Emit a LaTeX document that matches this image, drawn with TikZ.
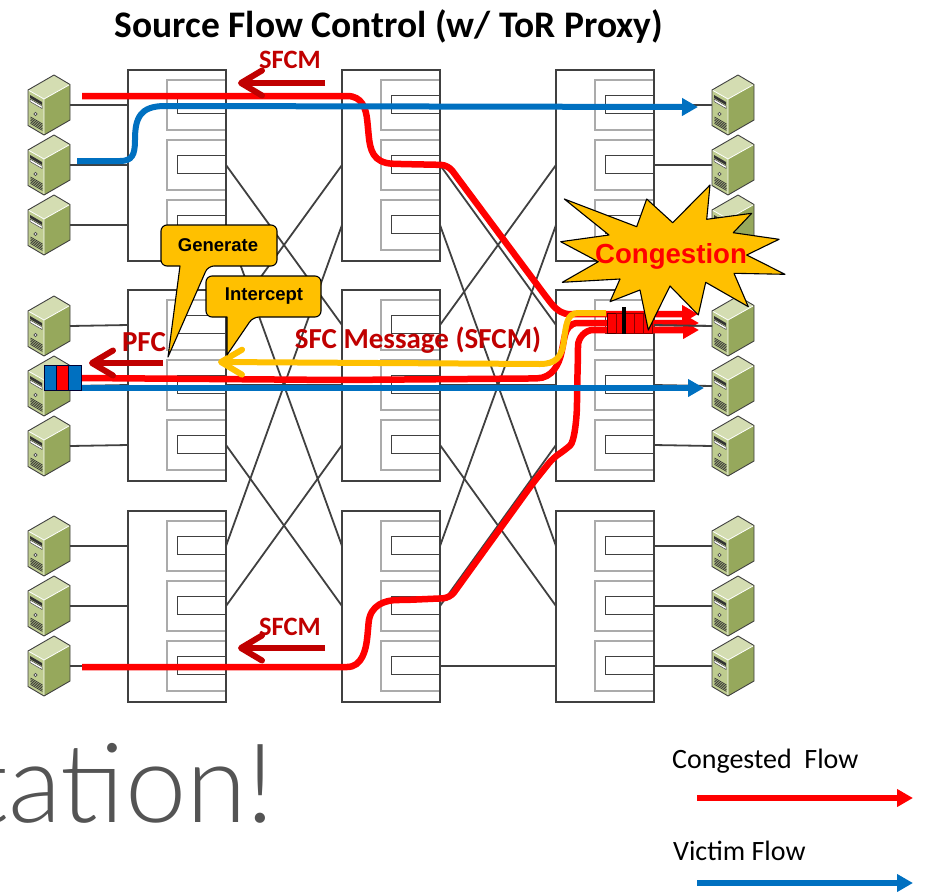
\documentclass[tikz,border=0pt]{standalone}
\usepackage{fontspec}
\setmainfont{Carlito}
\newfontfamily\arialfont{Liberation Sans}
\newfontfamily\lightfont{Lato Light}
\usepackage{xcolor}
\usetikzlibrary{arrows.meta,positioning}
\definecolor{linkgray}{HTML}{404040}
\definecolor{portgray}{HTML}{ABABAB}
\definecolor{flowred}{HTML}{FF0000}
\definecolor{flowblue}{HTML}{0070C0}
\definecolor{sfcyellow}{HTML}{FFC000}
\definecolor{sfcred}{HTML}{C00000}

\begin{document}
\begin{tikzpicture}[x=1pt,y=-1pt,
  switchbox/.style={draw=linkgray, line width=2pt, fill=white, minimum width=98pt, minimum height=191pt, inner sep=0pt, outer sep=0pt},
  srvbox/.style={minimum width=42pt, minimum height=60pt, inner sep=0pt, outer sep=0pt},
  link/.style={draw=linkgray, line width=1.8pt},
  redflow/.style={draw=flowred, line width=6.5pt, rounded corners=7pt},
  blueflow/.style={draw=flowblue, line width=6pt},
  bigtip/.style={-{Triangle[length=16pt,width=17pt]}},
  msgarrow/.style={line width=6pt, -{Straight Barb[length=21pt,width=25pt,round]}},
  cell/.style={draw=#1, line width=.9pt, minimum height=20pt, inner sep=0pt, outer sep=0pt},
  bubble/.style={draw=black, line width=1.1pt, fill=sfcyellow, line join=round},
  bubbletext/.style={font=\arialfont\bfseries\fontsize{18.5}{20}\selectfont},
  msgtext/.style={text=sfcred, font=\bfseries\fontsize{26.5}{30}\selectfont, inner sep=0pt},
  bigmsgtext/.style={text=sfcred, font=\bfseries\fontsize{29}{32}\selectfont, inner sep=0pt},
  legendtext/.style={font=\fontsize{28}{30}\selectfont, inner sep=0pt},
  server/.pic={
    \fill[fill={rgb,255:red,212;green,221;blue,178}] (0,15) -- (26,0) -- (42,9.5) -- (16,24) -- cycle;
    \fill[fill={rgb,255:red,190;green,204;blue,143}] (0,15) -- (16,24) -- (16,60) -- (0,50.5) -- cycle;
    \fill[fill={rgb,255:red,150;green,168;blue,92}] (16,24) -- (42,9.5) -- (42,45) -- (16,60) -- cycle;
    \draw[white, line width=.8pt] (.8,15.4) -- (16,24) -- (41,10) (16,24) -- (16,59);
    \fill[black!80] (2,20) -- (14,27) -- (14,30) -- (2,23) -- cycle;
    \draw[black!70, fill=white, line width=.5pt] (2,24) -- (14,31) -- (14,33.5) -- (2,26.5) -- cycle;
    \draw[black!70, fill=white, line width=.6pt] (7.5,39) circle (1.6pt);
    \foreach \k in {0,1,2,3,4}
      \draw[black!80, line width=.7pt] (2.5,42+\k*1.6) -- (14.5,49+\k*1.6);
    \draw[linkgray, line width=.9pt, line join=round] (0,15) -- (26,0) -- (42,9.5) -- (42,45) -- (16,60) -- (0,50.5) -- cycle;
  }]
  \useasboundingbox (0,0) rectangle (929,892);

  % switches
  \foreach \c/\x in {1/128,2/342,3/556}
    \foreach \r/\y in {1/70,2/290,3/511} {
      \node (sw\c\r) [switchbox] at (\x+49,\y+95.5) {};
      \foreach \i/\d in {1/10,2/70,3/130} {
        \draw[portgray, line width=1.2pt] (\x+97,\y+\d) -- (\x+39,\y+\d) -- (\x+39,\y+\d+50) -- (\x+97,\y+\d+50);
        \draw[linkgray, line width=1pt] (\x+97,\y+\d+15) -- (\x+49,\y+\d+15) -- (\x+49,\y+\d+33) -- (\x+97,\y+\d+33);
        \coordinate (sw\c\r-w\i) at (\x,\y+\d+25);
        \coordinate (sw\c\r-e\i) at (\x+98,\y+\d+25);
      }
    }

  % servers
  \foreach \r/\t in {1/75,2/296,3/516}
    \foreach \i/\d in {1/0,2/60,3/120} {
      \pic at (28,\t+\d) {server};
      \pic at (712,\t+\d) {server};
      \node (srvl\r\i) [srvbox] at (49,\t+\d+30) {};
      \node (srvr\r\i) [srvbox] at (733,\t+\d+30) {};
      \draw[link] (srvl\r\i.east) -- (sw1\r-w\i);
      \draw[link] (sw3\r-e\i) -- (srvr\r\i.west);
    }

  % fabric links
  \foreach \a/\b in {1/2,2/3}
    \foreach \r in {1,2,3}
      \foreach \p in {1,2,3}
        \draw[link] (sw\a\r-e\p) -- (sw\b\p-w\r);

  \coordinate (topsrc) at (82,96);
  \coordinate (midsrc) at (81,378);
  \coordinate (lowsrc) at (82,667);
  \coordinate (topdst) at (698,314);
  \coordinate (middst) at (699,323);
  \coordinate (lowdst) at (699,330);
  \coordinate (bluesrc) at (77,161);
  \coordinate (bluedst) at (698,107);
  \coordinate (bluesrcb) at (80,388);
  \coordinate (bluedstb) at (704,388);
  \coordinate (yelsrc) at (606,313);
  \coordinate (yeldst) at (218,362);

  % flows
  \draw[redflow, bigtip] (topsrc) -- (340,96) .. controls (362,96) and (366,108) .. (368,128)
    .. controls (370,150) and (373,163) .. (400,164) -- (448,165) -- (547,298)
    .. controls (558,312) and (565,314) .. (575,314) -- (topdst);
  \draw[redflow, bigtip] (midsrc) -- (340,380) -- (530,378.5) .. controls (552,378) and (559,365) .. (563,345)
    .. controls (566,329) and (570,323) .. (585,323) -- (middst);
  \draw[redflow, bigtip] (lowsrc) -- (340,667) .. controls (362,667) and (366,650) .. (368,630)
    .. controls (370,605) and (385,600) .. (405,600) -- (450,598) -- (533,483) -- (553,458) -- (565,450)
    .. controls (574,442) and (577,420) .. (577,395) -- (578,353) .. controls (578,338) and (585,330) .. (600,330) -- (lowdst);
  \draw[blueflow, bigtip] (bluesrc) -- (120,161) .. controls (132,161) and (135,155) .. (135,140)
    .. controls (135,118) and (140,106) .. (165,106) -- (bluedst);
  \draw[blueflow, bigtip] (bluesrcb) -- (bluedstb);
  \draw[link] (sw32-e1) -- (srvr21.west);
  \draw[draw=sfcyellow, msgarrow] (yelsrc) -- (578,313) .. controls (567,313) and (566,325) .. (564,340)
    .. controls (562,358) and (555,364) .. (540,364) -- (yeldst);

  % queues
  \node (qla) [cell=black!80!blue, fill=flowblue, minimum width=12.3pt, minimum height=25pt] at (50.2,377.5) {};
  \node (qlb) [cell=black!80!blue, fill=flowred, minimum width=12.3pt, minimum height=25pt, right=0pt of qla] {};
  \node (qlc) [cell=black!80!blue, fill=flowblue, minimum width=12.3pt, minimum height=25pt, right=0pt of qlb] {};
  \node (qra) [cell=black!70!red, fill=flowred, minimum width=9pt] at (611.5,323) {};
  \node (qrb) [cell=sfcred!70!black, fill=flowred, minimum width=9pt, right=0pt of qra] {};
  \node (qrc) [cell=sfcred!70!black, fill=flowred, minimum width=9pt, right=0pt of qrb] {};
  \node (qrd) [cell=sfcred!70!black, fill=flowred, minimum width=9pt, right=0pt of qrc] {};
  \node (qre) [cell=sfcred!70!black, fill=flowred, minimum width=9pt, right=0pt of qrd] {};
  \node (qbar) [fill=black, minimum width=3.6pt, minimum height=27pt, inner sep=0pt] at (624,320.5) {};

  % congestion burst
  \draw[bubble] (564.3,199) -- (636.7,226.7) -- (646.7,199) -- (672.7,222.7) -- (710,185) -- (706.7,219.3)
    -- (751.7,213.3) -- (733.3,232.7) -- (779,239.3) -- (746.7,255) -- (785,274.3) -- (734,273.3)
    -- (748.3,306.7) -- (705.7,282.3) -- (698.3,315) -- (670,286) -- (648.3,330) -- (640,290)
    -- (610,301.7) -- (620,279) -- (562.3,282.3) -- (598.3,261.7) -- (560.7,241.7) -- (609,235) -- cycle;
  \node (cong) [text=flowred, font=\arialfont\bfseries\fontsize{27.6}{30}\selectfont, inner sep=0pt] at (671,256) {Congestion};

  % callouts
  \draw[bubble, rounded corners=6pt] (161,225) -- (277,225) -- (277,266) -- (208,266) [sharp corners] -- (168,357) -- (180,266)
    [rounded corners=6pt] -- (161,266) -- cycle;
  \node (gen) [bubbletext] at (218,245) {Generate};
  \draw[bubble, rounded corners=6pt] (206,276) -- (321,276) -- (321,317) -- (253,317) [sharp corners] -- (227,355) -- (227,317)
    [rounded corners=6pt] -- (206,317) -- cycle;
  \node (icpt) [bubbletext] at (264,296) {Intercept};

  % messages
  \coordinate (sfcmtopa) at (325,83);
  \coordinate (sfcmtopb) at (238,83);
  \coordinate (sfcmlowa) at (325,648);
  \coordinate (sfcmlowb) at (238,648);
  \coordinate (pfca) at (163,363);
  \coordinate (pfcb) at (89,363);
  \draw[sfcred, msgarrow] (sfcmtopa) -- (sfcmtopb);
  \draw[sfcred, msgarrow] (sfcmlowa) -- (sfcmlowb);
  \draw[sfcred, msgarrow] (pfca) -- (pfcb);
  \node (sfcmtop) [msgtext] at (290,60) {SFCM};
  \node (sfcmlow) [msgtext] at (290,627) {SFCM};
  \node (pfc) [bigmsgtext] at (144,342) {PFC};
  \node (sfcmsg) [bigmsgtext] at (418,340) {SFC Message (SFCM)};

  \node (title) [font=\bfseries\fontsize{37.5}{40}\selectfont, inner sep=0pt] at (389,27) {Source Flow Control (w/ ToR Proxy)};
  \node (big) [anchor=base east, text=black!67, font=\lightfont\fontsize{110}{112}\selectfont, inner sep=0pt] at (275,822) {tation!};

  % legend
  \coordinate (legra) at (697,798);
  \coordinate (legrb) at (913,798);
  \coordinate (legba) at (697,883);
  \coordinate (legbb) at (913,883);
  \node (legr) [legendtext, anchor=west] at (672,761) {Congested\ \ Flow};
  \node (legb) [legendtext, anchor=west] at (673,851) {Victim Flow};
  \draw[redflow, bigtip] (legra) -- (legrb);
  \draw[blueflow, bigtip] (legba) -- (legbb);
\end{tikzpicture}
\end{document}
